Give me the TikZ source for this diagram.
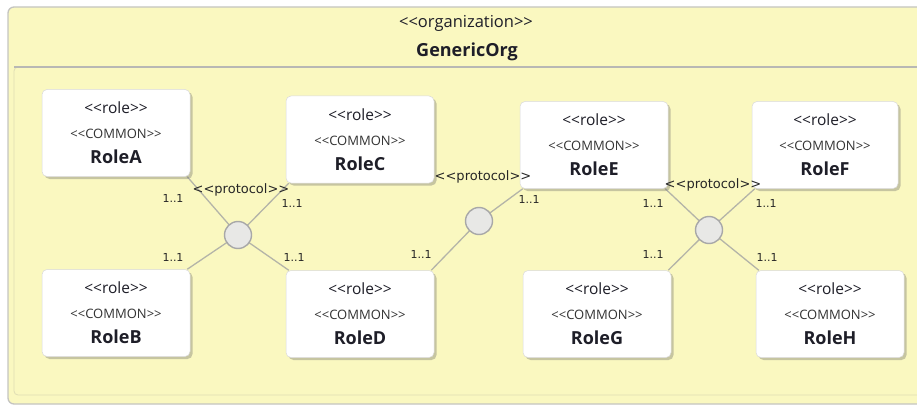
\documentclass[tikz,border=0pt]{standalone}
\usepackage{fontspec}
\setmainfont{Open Sans}
\newfontfamily\protofont{DejaVu Sans}
\usetikzlibrary{shadows,backgrounds}

\pgfdeclarelayer{frame}
\pgfsetlayers{frame,background,main}

\definecolor{orgfill}{HTML}{FAF8C0}
\definecolor{orgline}{HTML}{C4C4C0}
\definecolor{comprule}{HTML}{B8B8B4}
\definecolor{compline}{HTML}{E0DEB4}
\definecolor{linkgray}{HTML}{B4B4A8}
\definecolor{protofill}{HTML}{E8E8E6}
\definecolor{protoline}{HTML}{A8A8A8}
\definecolor{roletext}{HTML}{1E1E28}

\tikzset{
  rolebox/.style={
    rectangle, rounded corners=5pt, fill=white, draw=white!85!black, line width=0.5pt,
    minimum width=148pt, minimum height=87pt, inner sep=0pt,
    align=center, text=roletext, font=\fontsize{15.5}{25}\selectfont,
    drop shadow={shadow xshift=2.5pt, shadow yshift=-2.5pt, opacity=0.35, fill=black!60}
  },
  protocol/.style={circle, fill=protofill, draw=protoline, line width=1.4pt,
    minimum size=27pt, inner sep=0pt},
  link/.style={draw=linkgray, line width=1.3pt},
  mult/.style={font=\protofont\fontsize{11}{13}\selectfont, text=black!85, inner sep=0pt},
  protolabel/.style={font=\protofont\fontsize{13}{15}\selectfont, text=black!85, inner sep=0pt}
}

% stereotype brackets, kept apart so they are not joined into guillemets
\newcommand{\stl}{<{}<}
\newcommand{\str}{>{}>}

\newcommand{\rolecontent}[1]{%
  \stl role\str\\
  {\fontsize{13}{25}\selectfont\color{black!80}\stl COMMON\str}\\
  {\fontsize{18}{25}\selectfont\bfseries #1}}

\begin{document}
\begin{tikzpicture}[x=1pt, y=-1pt]
  \useasboundingbox (0,0) rectangle (917,406);

  % organization frame and its compartment
  \begin{pgfonlayer}{frame}
    \path[fill=orgfill, draw=orgline, line width=1.3pt, rounded corners=6pt]
      (8,7) rectangle (960,404);
    \path[draw=compline, line width=0.8pt, rounded corners=4pt]
      (14,67) rectangle (960,395);
    \draw[comprule, line width=1.6pt] (14,67) -- (917,67);
  \end{pgfonlayer}

  \node[font=\fontsize{16.5}{18}\selectfont, text=roletext] (stereo) at (466,23) {\stl organization\str};
  \node[font=\fontsize{18}{20}\selectfont\bfseries, text=roletext] (orgname) at (467,52) {GenericOrg};

  % roles
  \node[rolebox] (A) at (116,133) {\rolecontent{RoleA}};
  \node[rolebox] (C) at (360,139.5) {\rolecontent{RoleC}};
  \node[rolebox] (E) at (594,145) {\rolecontent{RoleE}};
  \node[rolebox, minimum width=146pt] (F) at (825,145) {\rolecontent{RoleF}};
  \node[rolebox] (B) at (116,313) {\rolecontent{RoleB}};
  \node[rolebox] (D) at (360,314) {\rolecontent{RoleD}};
  \node[rolebox] (G) at (597,314) {\rolecontent{RoleG}};
  \node[rolebox] (H) at (830,314) {\rolecontent{RoleH}};

  % protocols
  \node[protocol] (P1) at (238,235) {};
  \node[protocol] (P2) at (479,221) {};
  \node[protocol] (P3) at (709,230) {};

  % protocol links, kept under the boxes and circles
  \begin{scope}[on background layer]
    \path[link] (P1.center) -- ([xshift=-3pt]A.south east);
    \path[link] (P1.center) -- ([xshift=3pt]C.south west);
    \path[link] (P1.center) -- ([xshift=-3pt]B.north east);
    \path[link] (P1.center) -- ([xshift=3pt]D.north west);
    \path[link] (P2.center) -- ([xshift=-3pt]D.north east);
    \path[link] (P2.center) -- ([xshift=3pt]E.south west);
    \path[link] (P3.center) -- ([xshift=-3pt]E.south east);
    \path[link] (P3.center) -- ([xshift=3pt]F.south west);
    \path[link] (P3.center) -- ([xshift=-3pt]G.north east);
    \path[link] (P3.center) -- ([xshift=3pt]H.north west);
  \end{scope}

  % protocol stereotypes
  \node[protolabel] (P1lbl) at (241,190) {\stl protocol\str};
  \node[protolabel] (P2lbl) at (483,177) {\stl protocol\str};
  \node[protolabel] (P3lbl) at (713,185) {\stl protocol\str};

  % multiplicities
  \node[mult] (mA) at (173,198) {1..1};
  \node[mult] (mC) at (292,203) {1..1};
  \node[mult] (mB) at (173,257) {1..1};
  \node[mult] (mD) at (294,257) {1..1};
  \node[mult] (mD2) at (421,254) {1..1};
  \node[mult] (mE) at (529,199) {1..1};
  \node[mult] (mE2) at (653,203) {1..1};
  \node[mult] (mF) at (766,203) {1..1};
  \node[mult] (mG) at (653,254) {1..1};
  \node[mult] (mH) at (767,257) {1..1};
\end{tikzpicture}
\end{document}
